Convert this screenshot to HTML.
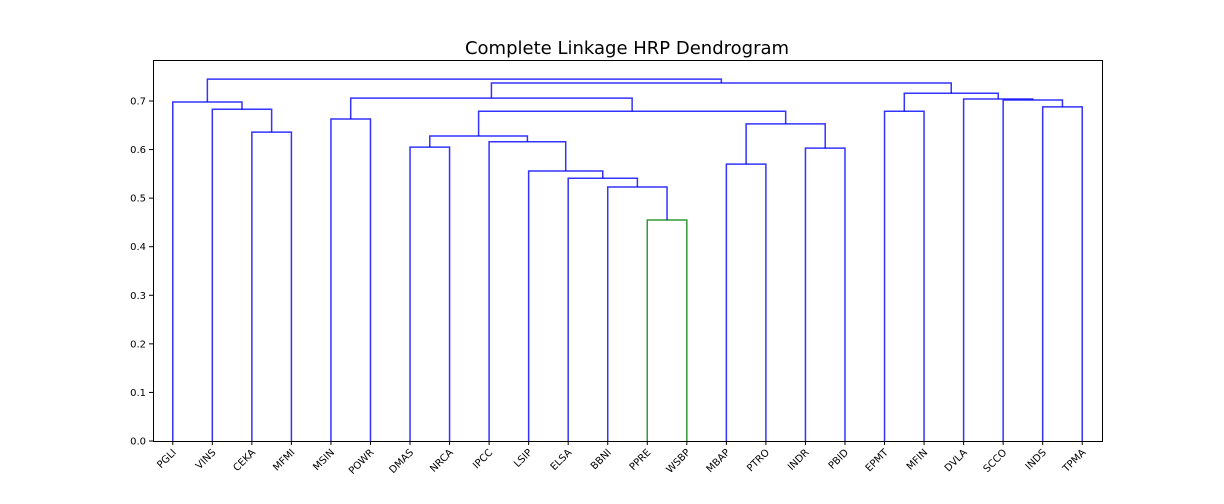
<!DOCTYPE html>
<html><head><meta charset="utf-8"><style>
body{margin:0;background:#fff;}
svg{display:block;font-family:"DejaVu Sans","Liberation Sans",sans-serif;}
</style></head><body>
<svg id="c" width="1224" height="504">
<text x="627" y="54" text-anchor="middle" font-size="18" fill="#000">Complete Linkage HRP Dendrogram</text>
<rect x="153.5" y="60.5" width="949" height="381" fill="none" stroke="#000" stroke-width="1"/>
<g id="links"></g><g id="axes"></g>
</svg>
<script>
const labels=["PGLI","VINS","CEKA","MFMI","MSIN","POWR","DMAS","NRCA","IPCC","LSIP","ELSA","BBNI","PPRE","WSBP","MBAP","PTRO","INDR","PBID","EPMT","MFIN","DVLA","SCCO","INDS","TPMA"];
const mergeLeft=[2,1,0,4,6,12,11,10,9,8,28,14,16,35,34,27,22,21,20,18,43,39,26];
const mergeRight=[3,24,25,5,7,13,29,30,31,32,33,15,17,36,37,38,23,40,41,19,42,44,45];
const mergeHeight=[0.636,0.683,0.698,0.663,0.605,0.455,0.523,0.541,0.556,0.616,0.628,0.570,0.603,0.653,0.679,0.706,0.688,0.702,0.704,0.679,0.716,0.737,0.745];
const greenMerges=[29];
const yTicks=[0,0.1,0.2,0.3,0.4,0.5,0.6,0.7];
const X0=153,X1=1102,Y0=441,Y1=60,YMAX=0.7844;
const n=labels.length;
const sx=u=>X0+(X1-X0)*u/(n*10);
const sy=v=>Y0-(Y0-Y1)*v/YMAX;
const NS="http://www.w3.org/2000/svg";
const links=document.getElementById('links'),axes=document.getElementById('axes');
const pos=[],ht=[];
for(let i=0;i<n;i++){pos.push(5+10*i);ht.push(0);}
for(let k=0;k<mergeHeight.length;k++){
  const a=mergeLeft[k],b=mergeRight[k],h=mergeHeight[k],id=n+k;
  const col=greenMerges.includes(id)?"#008000":"#0000ff";
  const p=document.createElementNS(NS,"polyline");
  p.setAttribute("points",`${sx(pos[a])},${sy(ht[a])} ${sx(pos[a])},${sy(h)} ${sx(pos[b])},${sy(h)} ${sx(pos[b])},${sy(ht[b])}`);
  p.setAttribute("fill","none");p.setAttribute("stroke",col);p.setAttribute("stroke-width","1.5");p.setAttribute("stroke-opacity","0.8");
  
  
  links.appendChild(p);
  pos.push((pos[a]+pos[b])/2);ht.push(h);
}
yTicks.forEach(v=>{
  const y=sy(v);
  const l=document.createElementNS(NS,"line");
  l.setAttribute("x1",X0-4);l.setAttribute("x2",X0);l.setAttribute("y1",y);l.setAttribute("y2",y);l.setAttribute("stroke","#000");
  
  
  axes.appendChild(l);
  const t=document.createElementNS(NS,"text");
  t.setAttribute("x",X0-7);t.setAttribute("y",y+3.5);t.setAttribute("text-anchor","end");t.setAttribute("font-size","10");
  t.textContent=v.toFixed(1);
  
  
  axes.appendChild(t);
});
labels.forEach((lb,i)=>{
  const x=sx(5+10*i);
  const l=document.createElementNS(NS,"line");
  l.setAttribute("x1",x);l.setAttribute("x2",x);l.setAttribute("y1",Y0);l.setAttribute("y2",Y0+4);l.setAttribute("stroke","#000");
  
  
  axes.appendChild(l);
  const t=document.createElementNS(NS,"text");
  t.setAttribute("x",x+4);t.setAttribute("y",Y0+12);t.setAttribute("text-anchor","end");t.setAttribute("font-size","10");
  t.setAttribute("transform",`rotate(-45 ${x+4} ${Y0+12})`);
  t.textContent=lb;
  
  
  axes.appendChild(t);
});
</script>
</body></html>
